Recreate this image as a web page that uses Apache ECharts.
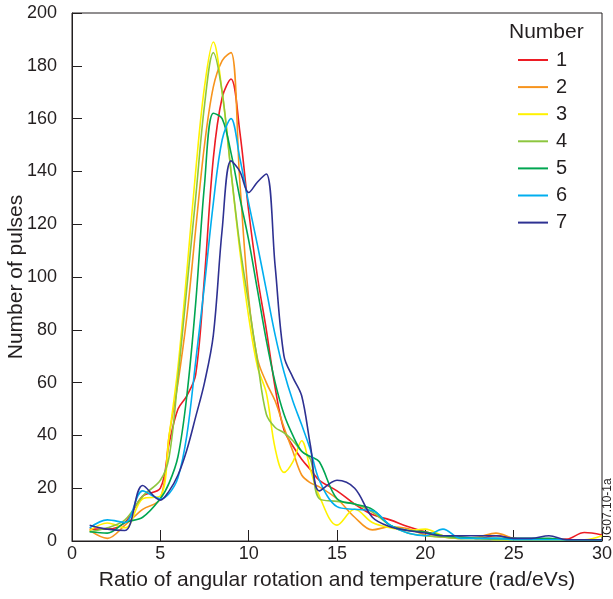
<!DOCTYPE html>
<html>
<head>
<meta charset="utf-8">
<script src="https://cdn.jsdelivr.net/npm/echarts@6/dist/echarts.min.js"></script>
<style>
html, body { margin: 0; padding: 0; background: #fff; }
#chart { width: 613px; height: 599px; }
</style>
</head>
<body>
<div id="chart"></div>
<script>
// ratio values (rad/eVs) shared by every series, half steps around the peak
const ratios = [1, 2, 3, 4,
	5, 5.5, 6, 6.5, 7, 7.5, 8, 8.5, 9, 9.5, 10, 10.5, 11, 11.5, 12, 12.5, 13, 13.5, 14,
	15, 16, 17, 18, 19, 20, 21, 22, 23, 24, 25, 26, 27, 28, 29, 30];

const names = ['1', '2', '3', '4', '5', '6', '7'];
const colors = ['#ed1c24', '#f7941d', '#fff200', '#8dc63f', '#00a651', '#00aeef', '#2e3192'];

const pulses1 = [4.5, 4.5, 7, 17,
	20, 37, 50, 55, 63, 100, 145, 168, 175, 155, 125, 100, 80, 58, 42, 36, 31, 27, 23,
	19, 14, 10, 8, 5.5, 3.5, 2, 1.5, 1, 2, 1, 0.5, 0.5, 0.7, 3.2, 2.3];
const pulses2 = [4, 1, 6, 12,
	16, 40, 60, 85, 118, 150, 172, 182, 185, 136, 92, 69, 60, 53, 43, 34, 25, 22, 20.5,
	16, 9, 4.2, 5.4, 4.7, 2.3, 1.5, 1, 1.5, 3, 1, 0.5, 0.5, 0.5, 0.5, 0.5];
const pulses3 = [4, 6.8, 5, 16,
	17, 40, 66, 102, 140, 172, 189, 170, 140, 110, 85, 66, 56, 35, 26, 30, 38, 27, 17,
	6, 12, 7, 5, 4, 4.5, 2, 1, 1, 0.5, 0.5, 0.5, 0.5, 0.5, 0.5, 2];
const pulses4 = [3.5, 5, 8, 17,
	23, 32, 62, 96, 130, 165, 185, 170, 140, 112, 90, 68, 48, 43, 41, 38, 34, 31, 16,
	15, 14, 11, 6, 3, 2, 1.5, 1, 1, 0.5, 0.5, 0.5, 0.5, 0.5, 0.5, 0.5];
const pulses5 = [3.5, 3, 7, 9,
	16, 22, 32, 55, 90, 135, 162, 160, 147, 130, 114, 95, 76, 60, 48, 40, 34, 32, 30,
	16, 14, 12, 6, 4, 3.4, 2, 1.5, 1, 1, 1, 1, 1, 0.5, 0.5, 0.5];
const pulses6 = [5, 8, 7, 19,
	16, 18, 24, 40, 68, 97, 128, 152, 160, 145, 128, 112, 95, 78, 64, 53, 44, 34.5, 23,
	13, 12, 11.5, 6, 3, 2, 4.5, 1, 1, 1, 0.5, 0.5, 0.5, 0.5, 0.5, 0.5];
const pulses7 = [6, 4.5, 4, 21,
	15.5, 19, 25, 34.5, 47, 60, 78, 118, 144, 140, 132, 136, 139, 104, 70, 62, 55, 36, 19,
	23, 20, 9, 5.4, 4, 3, 2, 2, 2, 2, 1, 1, 2, 0.5, 0.5, 0.5];

const allPulses = [pulses1, pulses2, pulses3, pulses4, pulses5, pulses6, pulses7];

const xTicks = [0, 5, 10, 15, 20, 25, 30];
const yTicks = [0, 20, 40, 60, 80, 100, 120, 140, 160, 180, 200];

const font = 'Liberation Sans, Arial, Helvetica, sans-serif';
const ink = '#231f20';

const chart = echarts.init(document.getElementById('chart'));

const series = allPulses.map((vals, i) => ({
	name: names[i],
	type: 'line',
	smooth: 0.35,
	symbol: 'none',
	data: vals.map((v, j) => [ratios[j], v]),
	lineStyle: { color: colors[i], width: 1.6 },
	itemStyle: { color: colors[i] }
}));

chart.setOption({
	animation: false,
	backgroundColor: '#fff',
	textStyle: { fontFamily: font, color: ink },
	grid: {
		left: 72, right: 11, top: 13, bottom: 58,
		outerBoundsMode: 'none',
		show: true, borderColor: ink, borderWidth: 1
	},
	legend: {
		orient: 'vertical',
		left: 518, top: 50,
		padding: 0,
		itemWidth: 30, itemHeight: 2,
		itemGap: 7.1,
		icon: 'rect',
		data: names,
		textStyle: { fontFamily: font, fontSize: 20, color: ink, padding: [0, 0, 0, 3] }
	},
	graphic: [
		{
			type: 'text', left: 509, top: 22,
			style: { text: 'Number', fontFamily: font, fontSize: 21, fill: ink }
		},
		{
			type: 'text', x: 602, y: 541, rotation: Math.PI / 2,
			style: { text: 'JG07.10-1a', fontFamily: font, fontSize: 12, fill: ink, align: 'left', verticalAlign: 'top' }
		}
	],
	xAxis: {
		type: 'value', min: 0, max: 30, interval: 5,
		name: 'Ratio of angular rotation and temperature (rad/eVs)',
		nameLocation: 'middle', nameGap: 29, nameMoveOverlap: false,
		nameTextStyle: { fontFamily: font, fontSize: 21, color: ink },
		axisLine: { lineStyle: { color: ink, width: 1 } },
		axisTick: { inside: true, length: 11, lineStyle: { color: ink } },
		axisLabel: {
			fontFamily: font, fontSize: 18, color: ink, margin: 4,
			formatter: v => xTicks.includes(v) ? String(v) : ''
		},
		splitLine: { show: false }
	},
	yAxis: {
		type: 'value', min: 0, max: 200, interval: 20,
		name: 'Number of pulses',
		nameLocation: 'middle', nameGap: 45, nameMoveOverlap: false,
		nameTextStyle: { fontFamily: font, fontSize: 21, color: ink },
		axisLine: { show: true, lineStyle: { color: ink, width: 1 } },
		axisTick: { inside: true, length: 10, lineStyle: { color: ink } },
		axisLabel: {
			fontFamily: font, fontSize: 18, color: ink, margin: 15,
			formatter: v => yTicks.includes(v) ? String(v) : ''
		},
		splitLine: { show: false }
	},
	series: series
});
</script>
</body>
</html>
